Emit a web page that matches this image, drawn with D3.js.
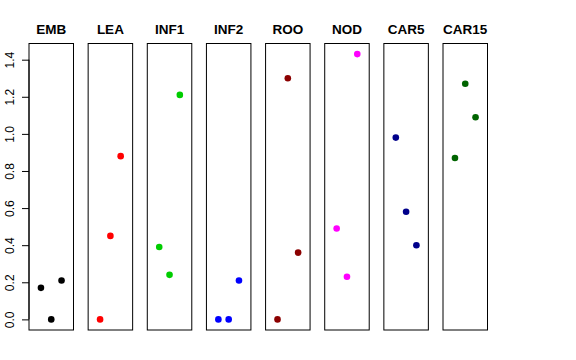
<!DOCTYPE html>
<html>
<head>
<meta charset="utf-8">
<script src="https://cdn.jsdelivr.net/npm/d3@7"></script>
<style>
  body { margin: 0; background: #fff; }
  svg { display: block; font-family: "Liberation Sans", Arial, sans-serif; }
</style>
</head>
<body>
<div id="chart"></div>
<script>
// one panel per tissue, three samples each
let tissues = ["EMB", "LEA", "INF1", "INF2", "ROO", "NOD", "CAR5", "CAR15"];
let colors = ["#000000", "#FF0000", "#00CD00", "#0000FF", "#8B0000", "#FF00FF", "#00008B", "#006400"];

let sample1 = [0.17, 0.00, 0.39, 0.00, 0.00, 0.49, 0.98, 0.87];
let sample2 = [0.00, 0.45, 0.24, 0.00, 1.30, 0.23, 0.58, 1.27];
let sample3 = [0.21, 0.88, 1.21, 0.21, 0.36, 1.43, 0.40, 1.09];

let yTicks = [0, 0.2, 0.4, 0.6, 0.8, 1.0, 1.2, 1.4];

let width = 576;
let height = 360;

let points = [];
tissues.forEach((t, i) => {
  [sample1, sample2, sample3].forEach((s, j) => {
    points.push({ tissue: t, idx: j + 1, value: s[i], color: colors[i] });
  });
});

let svg = d3.select("#chart").append("svg")
  .attr("width", width)
  .attr("height", height);

// panels
let panel = d3.scaleBand()
  .domain(tissues)
  .range([29, 487.5])
  .paddingInner(0.2477)
  .paddingOuter(0);

// R style 4% padding on both axes
let ext = d3.extent(points, d => d.value);
let pad = (ext[1] - ext[0]) * 0.04;
let y = d3.scaleLinear()
  .domain([ext[0] - pad, ext[1] + pad])
  .range([330, 43.5]);

let x = d3.scaleLinear()
  .domain([-0.16, 4.16])
  .range([0, panel.bandwidth()]);

let plotTop = y.range()[1];
let plotBottom = y.range()[0];

let g = svg.selectAll(".panel")
  .data(tissues)
  .enter()
  .append("g")
  .attr("class", "panel")
  .attr("transform", d => "translate(" + panel(d) + ",0)");

g.append("rect")
  .attr("x", 0)
  .attr("y", plotTop)
  .attr("width", panel.bandwidth())
  .attr("height", plotBottom - plotTop)
  .attr("fill", "none")
  .attr("stroke", "#000")
  .attr("stroke-width", 1);

g.append("text")
  .attr("x", panel.bandwidth() / 2)
  .attr("y", 33.5)
  .attr("text-anchor", "middle")
  .attr("font-weight", "bold")
  .attr("font-size", "13.5px")
  .text(d => d);

g.selectAll("circle")
  .data(t => points.filter(p => p.tissue == t))
  .enter()
  .append("circle")
  .attr("cx", d => x(d.idx))
  .attr("cy", d => y(d.value))
  .attr("r", 3.3)
  .attr("fill", d => d.color);

// y axis on the first panel
let axis = svg.append("g")
  .attr("transform", "translate(" + panel(tissues[0]) + ",0)")
  .call(d3.axisLeft(y)
    .tickValues(yTicks)
    .tickFormat(d3.format(".1f"))
    .tickSize(7)
    .tickSizeOuter(0));

axis.select(".domain")
  .attr("d", "M0," + y(yTicks[0]) + "V" + y(yTicks[yTicks.length - 1]))
  .attr("stroke", "#000");
axis.selectAll(".tick line").attr("stroke", "#000");
axis.selectAll(".tick text")
  .attr("font-size", "12px")
  .attr("font-family", "Liberation Sans, Arial, sans-serif")
  .attr("fill", "#000")
  .attr("text-anchor", "middle")
  .attr("dy", null)
  .attr("x", null)
  .attr("transform", "translate(-15,0) rotate(-90)");
</script>
</body>
</html>
